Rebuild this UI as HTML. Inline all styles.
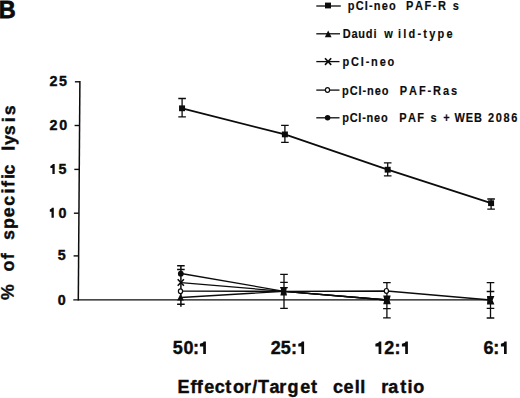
<!DOCTYPE html>
<html><head><meta charset="utf-8"><style>
html,body{margin:0;padding:0;background:#fff;width:520px;height:398px;overflow:hidden}
svg{display:block}
text{fill:#0c0c0c;stroke:#0c0c0c;stroke-width:0.4px;font-kerning:none}
</style></head><body>
<svg width="520" height="398" viewBox="0 0 520 398">
<path d="M79.9 81.1 L78.3 300.6" stroke="#0c0c0c" stroke-width="1.5" fill="none"/>
<path d="M73.3 299.9 L490.5 299.9" stroke="#0c0c0c" stroke-width="1.4" fill="none"/>
<path d="M74.9 81.8 L79.9 81.8" stroke="#0c0c0c" stroke-width="1.4"/>
<path d="M74.6 125.5 L79.6 125.5" stroke="#0c0c0c" stroke-width="1.4"/>
<path d="M74.3 169.4 L79.3 169.4" stroke="#0c0c0c" stroke-width="1.4"/>
<path d="M73.9 213.2 L78.9 213.2" stroke="#0c0c0c" stroke-width="1.4"/>
<path d="M73.6 255.9 L78.6 255.9" stroke="#0c0c0c" stroke-width="1.4"/>
<text x="49.61 58.90" y="86.12" font-size="14.3" font-family="'Liberation Sans', sans-serif" font-weight="bold" >25</text>
<text x="49.46 59.23" y="130.12" font-size="14.3" font-family="'Liberation Sans', sans-serif" font-weight="bold" >20</text>
<path d="M54.70 164.01 L54.70 174.02 L52.40 174.02 L52.40 168.01 L50.40 168.01 L50.40 165.91 L52.20 165.01 L52.80 164.01 Z" fill="#0c0c0c"/>
<text x="58.60" y="174.02" font-size="14.3" font-family="'Liberation Sans', sans-serif" font-weight="bold" >5</text>
<path d="M53.80 207.71 L53.80 217.72 L51.50 217.72 L51.50 211.71 L49.80 211.71 L49.80 209.61 L51.30 208.71 L51.90 207.71 Z" fill="#0c0c0c"/>
<text x="58.48" y="217.72" font-size="14.3" font-family="'Liberation Sans', sans-serif" font-weight="bold" >0</text>
<text x="57.75" y="260.27" font-size="14.3" font-family="'Liberation Sans', sans-serif" font-weight="bold" >5</text>
<text x="57.63" y="304.57" font-size="14.3" font-family="'Liberation Sans', sans-serif" font-weight="bold" >0</text>
<path d="M182.1 98.5 L182.1 116.9 M178.3 98.5 L185.9 98.5 M178.3 116.9 L185.9 116.9" stroke="#0c0c0c" stroke-width="1.3" fill="none"/>
<path d="M284.9 125.4 L284.9 142.3 M281.1 125.4 L288.7 125.4 M281.1 142.3 L288.7 142.3" stroke="#0c0c0c" stroke-width="1.3" fill="none"/>
<path d="M387.7 162.9 L387.7 175.9 M383.9 162.9 L391.5 162.9 M383.9 175.9 L391.5 175.9" stroke="#0c0c0c" stroke-width="1.3" fill="none"/>
<path d="M491.1 199.0 L491.1 209.1 M487.3 199.0 L494.9 199.0 M487.3 209.1 L494.9 209.1" stroke="#0c0c0c" stroke-width="1.3" fill="none"/>
<polyline points="182.1,108.3 284.9,134.4 387.7,169.7 491.1,203.2" stroke="#0c0c0c" stroke-width="1.75" fill="none"/>
<path d="M180.9 265.7 L180.9 306.7 M177.1 265.7 L184.7 265.7 M177.1 269.6 L184.7 269.6 M177.1 304.2 L184.7 304.2" stroke="#0c0c0c" stroke-width="1.5" fill="none"/>
<path d="M284.0 274.4 L284.0 308.4 M280.2 274.4 L287.8 274.4 M280.2 282.4 L287.8 282.4 M280.2 287.7 L287.8 287.7 M280.2 308.4 L287.8 308.4" stroke="#0c0c0c" stroke-width="1.3" fill="none"/>
<path d="M386.9 282.6 L386.9 317.8 M383.1 282.6 L390.7 282.6 M383.1 308.6 L390.7 308.6 M383.1 317.8 L390.7 317.8" stroke="#0c0c0c" stroke-width="1.3" fill="none"/>
<path d="M490.5 282.6 L490.5 318.0 M486.7 282.6 L494.3 282.6 M486.7 291.5 L494.3 291.5 M486.7 308.4 L494.3 308.4 M486.7 318.0 L494.3 318.0" stroke="#0c0c0c" stroke-width="1.3" fill="none"/>
<polyline points="180.9,297.5 284.0,291.3 386.9,300" stroke="#0c0c0c" stroke-width="1.3" fill="none"/>
<polyline points="181.0,282.7 284.0,291.3 386.9,300" stroke="#0c0c0c" stroke-width="1.3" fill="none"/>
<polyline points="181.0,291.2 284.0,291.3 387.0,291.0 490.5,300" stroke="#0c0c0c" stroke-width="1.3" fill="none"/>
<polyline points="181.1,273.5 284.0,291.3 386.9,300" stroke="#0c0c0c" stroke-width="1.3" fill="none"/>
<rect x="179.05" y="105.40" width="6.00" height="5.80" fill="#0c0c0c"/>
<rect x="281.89" y="131.50" width="6.00" height="5.80" fill="#0c0c0c"/>
<rect x="384.68" y="166.80" width="6.00" height="5.80" fill="#0c0c0c"/>
<rect x="488.08" y="200.30" width="6.00" height="5.80" fill="#0c0c0c"/>
<ellipse cx="180.80" cy="273.70" rx="2.90" ry="2.90" fill="#0c0c0c"/>
<path d="M177.70 279.20 L183.90 285.80 M183.90 279.20 L177.70 285.80" stroke="#0c0c0c" stroke-width="1.6"/>
<ellipse cx="180.50" cy="291.20" rx="2.10" ry="2.40" fill="#fff" stroke="#0c0c0c" stroke-width="1.2"/>
<path d="M180.50 293.70 L183.90 300.50 L177.10 300.50 Z" fill="#0c0c0c"/>
<path d="M280.40 287.00 L287.00 287.00 L286.10 291.25 L287.00 295.50 L280.40 295.50 L281.30 291.25 Z" fill="#0c0c0c"/>
<path d="M383.20 295.60 L390.70 295.60 L389.50 299.90 L390.70 304.20 L383.20 304.20 L384.40 299.90 Z" fill="#0c0c0c"/>
<ellipse cx="386.40" cy="290.90" rx="2.10" ry="2.40" fill="#fff" stroke="#0c0c0c" stroke-width="1.2"/>
<path d="M487.00 295.90 L494.40 295.90 L492.60 300.15 L494.40 304.40 L487.00 304.40 L487.30 300.15 Z" fill="#0c0c0c"/>
<path d="M316.3 6.0 L340.8 6.0" stroke="#0c0c0c" stroke-width="1.3"/>
<path d="M316.3 33.8 L340 33.8" stroke="#0c0c0c" stroke-width="1.3"/>
<path d="M316.3 61.6 L339.5 61.6" stroke="#0c0c0c" stroke-width="1.3"/>
<path d="M316.3 90.1 L339.5 90.1" stroke="#0c0c0c" stroke-width="1.3"/>
<path d="M316.3 117.8 L339.5 117.8" stroke="#0c0c0c" stroke-width="1.3"/>
<rect x="325.00" y="2.60" width="6.00" height="5.80" fill="#0c0c0c"/>
<path d="M328.20 30.50 L331.60 37.30 L324.80 37.30 Z" fill="#0c0c0c"/>
<path d="M325.00 58.30 L331.20 64.90 M331.20 58.30 L325.00 64.90" stroke="#0c0c0c" stroke-width="1.6"/>
<ellipse cx="327.50" cy="90.00" rx="2.10" ry="2.40" fill="#fff" stroke="#0c0c0c" stroke-width="1.2"/>
<ellipse cx="327.60" cy="117.80" rx="2.75" ry="2.75" fill="#0c0c0c"/>
<text transform="translate(347.87 9.9) scale(0.88 1)" x="0" y="0" font-size="12.5" font-family="'Liberation Sans', sans-serif" font-weight="bold" letter-spacing="1.291" style="stroke-width:0.15px">pCI-neo</text>
<text transform="translate(405.96 9.9) scale(0.88 1)" x="0" y="0" font-size="12.5" font-family="'Liberation Sans', sans-serif" font-weight="bold" letter-spacing="1.834" style="stroke-width:0.15px">PAF-R</text>
<text transform="translate(452.81 9.9) scale(0.88 1)" x="0" y="0" font-size="12.5" font-family="'Liberation Sans', sans-serif" font-weight="bold" letter-spacing="0.000" style="stroke-width:0.15px">s</text>
<text transform="translate(342.66 38.0) scale(0.88 1)" x="0" y="0" font-size="12.5" font-family="'Liberation Sans', sans-serif" font-weight="bold" letter-spacing="0.926" style="stroke-width:0.15px">Daudi</text>
<text transform="translate(384.13 38.0) scale(0.88 1)" x="0" y="0" font-size="12.5" font-family="'Liberation Sans', sans-serif" font-weight="bold" letter-spacing="0.000" style="stroke-width:0.15px">w</text>
<text transform="translate(398.03 38.0) scale(0.88 1)" x="0" y="0" font-size="12.5" font-family="'Liberation Sans', sans-serif" font-weight="bold" letter-spacing="2.505" style="stroke-width:0.15px">ild-type</text>
<text transform="translate(342.47 66.0) scale(0.88 1)" x="0" y="0" font-size="12.5" font-family="'Liberation Sans', sans-serif" font-weight="bold" letter-spacing="2.067" style="stroke-width:0.15px">pCI-neo</text>
<text transform="translate(342.07 94.5) scale(0.88 1)" x="0" y="0" font-size="12.5" font-family="'Liberation Sans', sans-serif" font-weight="bold" letter-spacing="1.045" style="stroke-width:0.15px">pCI-neo</text>
<text transform="translate(399.81 94.5) scale(0.88 1)" x="0" y="0" font-size="12.5" font-family="'Liberation Sans', sans-serif" font-weight="bold" letter-spacing="2.158" style="stroke-width:0.15px">PAF-Ras</text>
<text transform="translate(342.17 122.3) scale(0.88 1)" x="0" y="0" font-size="12.5" font-family="'Liberation Sans', sans-serif" font-weight="bold" letter-spacing="0.874" style="stroke-width:0.15px">pCI-neo</text>
<text transform="translate(399.26 122.3) scale(0.88 1)" x="0" y="0" font-size="12.5" font-family="'Liberation Sans', sans-serif" font-weight="bold" letter-spacing="1.556" style="stroke-width:0.15px">PAF</text>
<text transform="translate(430.41 122.3) scale(0.88 1)" x="0" y="0" font-size="12.5" font-family="'Liberation Sans', sans-serif" font-weight="bold" letter-spacing="0.000" style="stroke-width:0.15px">s</text>
<text transform="translate(443.14 122.3) scale(0.88 1)" x="0" y="0" font-size="12.5" font-family="'Liberation Sans', sans-serif" font-weight="bold" letter-spacing="0.000" style="stroke-width:0.15px">+</text>
<text transform="translate(454.54 122.3) scale(0.88 1)" x="0" y="0" font-size="12.5" font-family="'Liberation Sans', sans-serif" font-weight="bold" letter-spacing="0.964" style="stroke-width:0.15px">WEB</text>
<text transform="translate(487.92 122.3) scale(0.88 1)" x="0" y="0" font-size="12.5" font-family="'Liberation Sans', sans-serif" font-weight="bold" letter-spacing="1.897" style="stroke-width:0.15px">2086</text>
<path d="M205.90 341.40 L205.90 354.00 L203.20 354.00 L203.20 346.44 L199.90 346.44 L199.90 343.79 L203.00 342.66 L203.60 341.40 Z" fill="#0c0c0c"/>
<text x="172.87 183.46 192.95" y="354.00" font-size="18.0" font-family="'Liberation Sans', sans-serif" font-weight="bold" >50:</text>
<path d="M304.10 341.40 L304.10 354.00 L301.40 354.00 L301.40 346.44 L298.30 346.44 L298.30 343.79 L301.20 342.66 L301.80 341.40 Z" fill="#0c0c0c"/>
<text x="270.74 280.67 290.95" y="354.00" font-size="18.0" font-family="'Liberation Sans', sans-serif" font-weight="bold" >25:</text>
<path d="M381.30 341.40 L381.30 354.00 L378.60 354.00 L378.60 346.44 L375.40 346.44 L375.40 343.79 L378.40 342.66 L379.00 341.40 Z" fill="#0c0c0c"/>
<path d="M407.90 341.40 L407.90 354.00 L405.20 354.00 L405.20 346.44 L401.90 346.44 L401.90 343.79 L405.00 342.66 L405.60 341.40 Z" fill="#0c0c0c"/>
<text x="384.14 394.55" y="354.00" font-size="18.0" font-family="'Liberation Sans', sans-serif" font-weight="bold" >2:</text>
<path d="M506.70 341.40 L506.70 354.00 L504.00 354.00 L504.00 346.44 L500.90 346.44 L500.90 343.79 L503.80 342.66 L504.40 341.40 Z" fill="#0c0c0c"/>
<text x="483.39 493.25" y="354.00" font-size="18.0" font-family="'Liberation Sans', sans-serif" font-weight="bold" >6:</text>
<text x="177.45 190.53 196.68 204.20 214.71 225.30 232.95 243.94 252.25 258.00 269.47 279.14 287.54 300.15 311.00" y="392.70" font-size="18.0" font-family="'Liberation Sans', sans-serif" font-weight="bold" >Effector/Target</text>
<text x="332.96 343.60 354.81 360.36" y="392.70" font-size="18.0" font-family="'Liberation Sans', sans-serif" font-weight="bold" >cell</text>
<text x="381.24 388.32 400.25 407.51 413.15" y="392.70" font-size="18.0" font-family="'Liberation Sans', sans-serif" font-weight="bold" >ratio</text>
<g transform="matrix(1 0 -0.008 1 2.400 0)"><text transform="translate(13.4 0) rotate(-90)" x="-300.05" y="0" font-size="17.8" font-family="'Liberation Sans', sans-serif" font-weight="bold">%</text><text transform="translate(13.4 0) rotate(-90)" x="-271.39 -259.23" y="0" font-size="17.8" font-family="'Liberation Sans', sans-serif" font-weight="bold">of</text><text transform="translate(13.4 0) rotate(-90)" x="-240.00 -228.91 -217.14 -205.84 -193.41 -186.98 -179.11 -174.44" y="0" font-size="17.8" font-family="'Liberation Sans', sans-serif" font-weight="bold">specific</text><text transform="translate(13.4 0) rotate(-90)" x="-150.66 -144.92 -135.15 -122.21 -115.35" y="0" font-size="17.8" font-family="'Liberation Sans', sans-serif" font-weight="bold">lysis</text></g>
<text x="-1.2" y="17.7" font-size="23.4" font-family="'Liberation Sans', sans-serif" font-weight="bold" style="stroke-width:0.8px">B</text>
</svg>
</body></html>
